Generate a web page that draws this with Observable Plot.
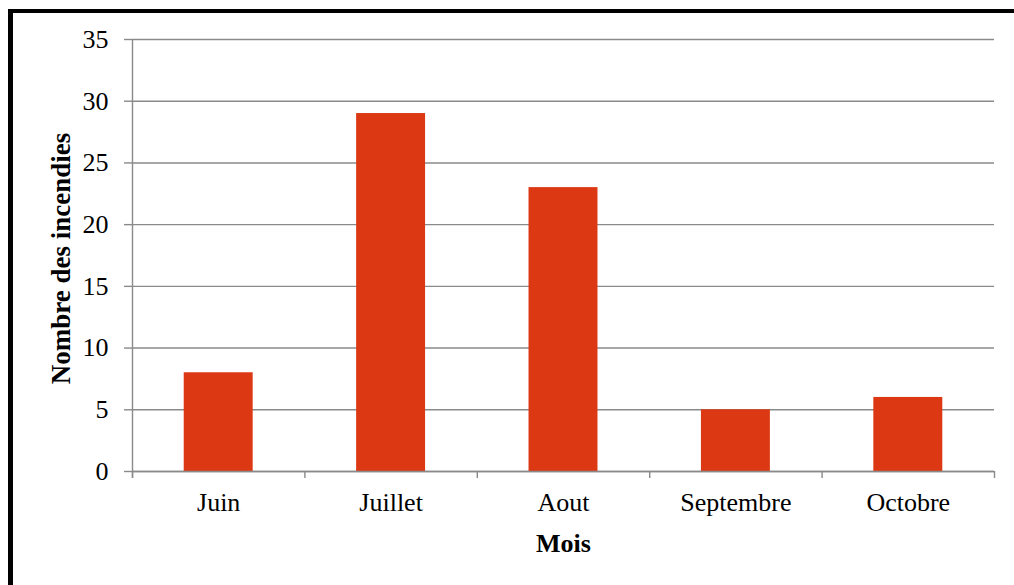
<!DOCTYPE html>
<html>
<head>
<meta charset="utf-8">
<script src="https://cdn.jsdelivr.net/npm/d3@7"></script>
<script src="https://cdn.jsdelivr.net/npm/@observablehq/plot@0.6"></script>
<style>
  html, body { margin: 0; padding: 0; background: #fff; }
  #wrap { position: relative; width: 1014px; height: 585px; overflow: hidden; }
  #wrap svg, #wrap svg text { font-family: "Liberation Serif", "Times New Roman", "DejaVu Serif", serif !important; }
  #edge { position: absolute; left: 8px; top: 9px; right: -10px; bottom: -10px;
          border-left: 5px solid #000; border-top: 4px solid #000; pointer-events: none; }
</style>
</head>
<body>
<div id="wrap"><div id="edge"></div></div>
<script>
// Number of fires per month
const months = ["Juin", "Juillet", "Aout", "Septembre", "Octobre"];
const fires = [8, 29, 23, 5, 6];
const yTicks = [0, 5, 10, 15, 20, 25, 30, 35];
const yTitle = "Nombre des incendies";
const xTitle = "Mois";

const rows = months.map((month, i) => ({ month, i, value: fires[i] }));
const bounds = d3.range(months.length + 1);

const gray = "#8a8a8a";

const chart = Plot.plot({
  width: 1014,
  height: 585,
  marginLeft: 132,
  marginRight: 20,
  marginTop: 39,
  marginBottom: 114,
  style: {
    fontFamily: "'Liberation Serif', 'Times New Roman', serif",
    fontSize: "26px",
    color: "#000",
    background: "transparent"
  },
  x: { domain: [0, months.length], axis: null },
  y: { domain: [0, 35], axis: null },
  marks: [
    Plot.gridY(yTicks, { stroke: gray, strokeOpacity: 1, strokeWidth: 1.4 }),
    Plot.axisY(yTicks, { tickSize: 8, tickPadding: 16, stroke: gray, strokeWidth: 1.4, fill: "#000", fontSize: 26, label: null }),
    Plot.rectY(rows, {
      x1: (d) => d.i + 0.3,
      x2: (d) => d.i + 0.7,
      y: "value",
      fill: "#dc3813"
    }),
    Plot.ruleY([0], { stroke: gray, strokeWidth: 1.4 }),
    // vertical axis line spanning the frame, extended down to the tick length
    Plot.ruleX([0], { stroke: gray, strokeWidth: 1.4, insetBottom: -7 }),
    Plot.axisX(bounds, { tickSize: 7, stroke: gray, strokeWidth: 1.4, tickFormat: () => "", label: null }),
    Plot.text(rows, {
      x: (d) => d.i + 0.5,
      y: 0,
      text: "month",
      dy: 31,
      lineAnchor: "middle",
      fontSize: 26,
      fill: "#000"
    }),
    Plot.text([xTitle], {
      frameAnchor: "bottom",
      dy: 72,
      lineAnchor: "middle",
      fontWeight: "bold",
      fontSize: 26,
      fill: "#000"
    }),
    Plot.text([yTitle], {
      frameAnchor: "left",
      rotate: -90,
      dx: -71,
      dy: 3,
      textAnchor: "middle",
      lineAnchor: "middle",
      fontWeight: "bold",
      fontSize: 27,
      fill: "#000"
    })
  ]
});

document.getElementById("wrap").prepend(chart);
</script>
</body>
</html>
